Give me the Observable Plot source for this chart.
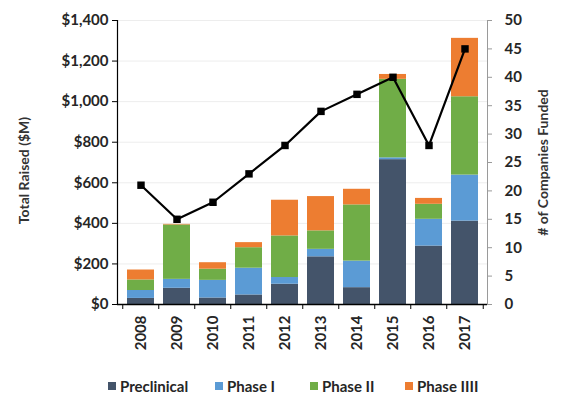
<!DOCTYPE html>
<html>
<head>
<meta charset="utf-8">
<script src="https://cdn.jsdelivr.net/npm/d3@7"></script>
<script src="https://cdn.jsdelivr.net/npm/@observablehq/plot@0.6"></script>
<style>
  html, body { margin: 0; padding: 0; background: #fff; }
  body { width: 563px; height: 394px; font-family: Lato, "Open Sans", sans-serif; }
  #chart svg { display: block; }
  #legend { position: relative; height: 34px; font: bold 15px/14px Lato, sans-serif; color: #262626; }
  #legend .item { position: absolute; top: 19px; height: 14px; display: flex; align-items: center; white-space: nowrap; }
  #legend .sw { width: 8px; height: 8px; margin-right: 4px; display: inline-block; }
</style>
</head>
<body>
<div id="chart"></div>
<div id="legend"></div>
<script>
const years = ["2008", "2009", "2010", "2011", "2012", "2013", "2014", "2015", "2016", "2017"];
const preclinical = [30, 80, 32, 47, 100, 235, 83, 714, 288, 411];
const phase1      = [39, 44, 87, 132, 33, 37, 131, 9, 132, 227];
const phase2      = [52, 268, 55, 101, 205, 91, 277, 387, 74, 386];
const phase3      = [49, 3, 32, 25, 176, 169, 77, 24, 29, 288];
const companies   = [21, 15, 18, 23, 28, 34, 37, 40, 28, 45];

const seriesNames = ["Preclinical", "Phase I", "Phase II", "Phase IIII"];
const seriesValues = [preclinical, phase1, phase2, phase3];
const colors = ["#44546a", "#5b9bd5", "#70ad47", "#ed7d31"];

const leftTicks = [0, 200, 400, 600, 800, 1000, 1200, 1400];
const rightTicks = [0, 5, 10, 15, 20, 25, 30, 35, 40, 45, 50];
const yMax = 1400, rMax = 50;
const k = yMax / rMax;

const rows = [];
seriesNames.forEach((s, i) => years.forEach((y, j) => rows.push({year: y, series: s, value: seriesValues[i][j]})));
const lineRows = years.map((y, j) => ({year: y, count: companies[j]}));

const textColor = "#262626";
const step = (563 - 117 - 76) / (10 - 0.26 + 0.4);

const plot = Plot.plot({
  width: 563,
  height: 360,
  marginLeft: 117,
  marginRight: 76,
  marginTop: 20,
  marginBottom: 56,
  style: {fontFamily: "Lato, sans-serif", fontSize: "15px", fontWeight: "bold", color: textColor, background: "#fff"},
  x: {domain: years, paddingInner: 0.26, paddingOuter: 0.2},
  y: {domain: [0, yMax]},
  color: {domain: seriesNames, range: colors},
  marks: [
    Plot.gridY(leftTicks, {stroke: "#ededed", strokeOpacity: 1}),
    Plot.barY(rows, Plot.stackY({x: "year", y: "value", fill: "series", order: seriesNames})),
    Plot.line(lineRows, {x: "year", y: d => d.count * k, stroke: "#000", strokeWidth: 2.2}),
    Plot.dot(lineRows, {x: "year", y: d => d.count * k, symbol: "square", fill: "#000", r: 4.2}),
    Plot.frame({anchor: "left", stroke: "#000", strokeWidth: 1.2}),
    Plot.frame({anchor: "right", stroke: "#9a9a9a"}),
    Plot.ruleY([0], {stroke: "#000", strokeWidth: 1.5}),
    Plot.ruleX(years, {x: d => d, y1: 0, y2: 0, dx: -step / 2, insetBottom: -5, stroke: "#000"}),
    Plot.ruleX(years.slice(-1), {x: d => d, y1: 0, y2: 0, dx: step / 2, insetBottom: -5, stroke: "#000"}),
    Plot.axisY(leftTicks, {anchor: "left", tickFormat: d3.format("$,"), tickSize: 5, tickPadding: 4, label: null, stroke: "#000", fill: textColor}),
    Plot.axisY(rightTicks.map(v => v * k), {anchor: "right", tickFormat: d => d / k, tickSize: 4, tickPadding: 13, label: null, stroke: "#9a9a9a", fill: textColor}),
    Plot.axisX(years, {anchor: "bottom", tickSize: 0, tickPadding: 11, tickRotate: -90, label: null, fill: textColor}),
    Plot.text(["Total Raised ($M)"], {frameAnchor: "left", textAnchor: "middle", dx: -93, dy: 8, rotate: -90, fill: "#333", fontSize: 14, fontWeight: "bold"}),
    Plot.text(["# of Companies Funded"], {frameAnchor: "right", textAnchor: "middle", dx: 56, dy: 0, rotate: -90, fill: "#333", fontSize: 14, fontWeight: "bold"})
  ]
});
document.getElementById("chart").appendChild(plot);

const legendLeft = [108, 215, 310, 405];
const legend = document.getElementById("legend");
seriesNames.forEach((s, i) => {
  const item = document.createElement("span");
  item.className = "item";
  item.style.left = legendLeft[i] + "px";
  const sw = document.createElement("span");
  sw.className = "sw";
  sw.style.background = colors[i];
  item.appendChild(sw);
  item.appendChild(document.createTextNode(s));
  legend.appendChild(item);
});
</script>
</body>
</html>
